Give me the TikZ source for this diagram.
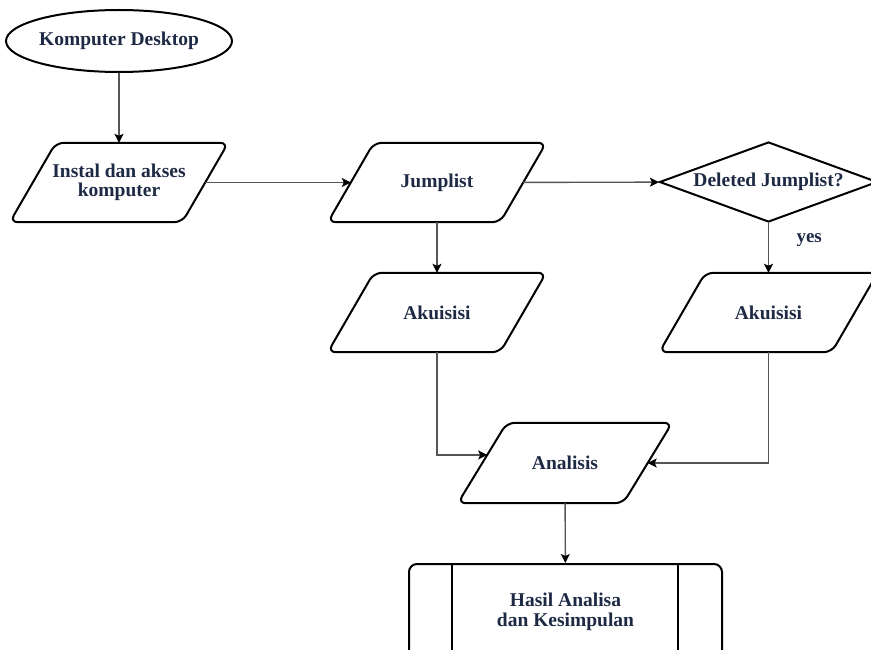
\documentclass[tikz,border=0pt]{standalone}
\usepackage{fontspec}
\setmainfont{Liberation Serif}
\usetikzlibrary{shapes.geometric,arrows.meta,calc}
\definecolor{txt}{RGB}{30,42,68}
\definecolor{conn}{RGB}{85,85,85}
\newcommand\drawpara[2][23]{%
  \draw[shp, rounded corners=8pt]
    ($(#2.north west)+(#1,0)$) -- ($(#2.north east)+(#1,0)$) --
    ($(#2.south east)+(-#1,0)$) -- ($(#2.south west)+(-#1,0)$) -- cycle;}
\begin{document}
\begin{tikzpicture}[x=1pt,y=-1pt,
  every node/.style={font=\fontsize{19.5}{19.5}\selectfont\bfseries, text=txt},
  shp/.style={draw=black, line width=2pt},
  para/.style={rectangle, minimum height=79pt, minimum width=172pt, align=center, inner sep=0pt},
  term/.style={shp, ellipse, minimum width=222pt, minimum height=62pt, inner sep=0pt},
  decision/.style={shp, diamond, aspect=2.725, minimum width=218pt, minimum height=80pt, inner sep=0pt},
  proc/.style={shp, rectangle, rounded corners=8pt, minimum width=313pt, minimum height=96pt, align=center},
  conn/.style={draw=conn, line width=1.4pt, -{Stealth[length=9pt,width=9pt,inset=2pt,color=black]}},
  lbl/.style={font=\fontsize{19}{19}\selectfont\bfseries}
]
\clip (0,0) rectangle (871,650);
\node[term] (kd) at (119,41) {Komputer Desktop};
\node[para] (inst) at (119,182.5) {Instal dan akses\\komputer};
\node[para] (jump) at (437,182.5) {Jumplist};
\node[decision] (dj) at (768.5,182) {Deleted Jumplist?};
\node[para] (akL) at (437,312.5) {Akuisisi};
\node[para] (akR) at (768.5,312.5) {Akuisisi};
\node[para, minimum width=165pt, minimum height=80pt] (ana) at (565,463) {Analisis};
\node[proc] (hasil) at (565.5,612) {Hasil Analisa\\ dan Kesimpulan};
\drawpara{inst}
\drawpara{jump}
\drawpara{akL}
\drawpara{akR}
\drawpara[24.5]{ana}
\draw[shp] ($(hasil.north west)+(44,0)$) -- ($(hasil.south west)+(44,0)$);
\draw[shp] ($(hasil.north east)+(-45,0)$) -- ($(hasil.south east)+(-45,0)$);

\draw[conn] (kd.south) -- (kd.south |- inst.north);
\draw[conn] (inst) -- (jump);
\draw[conn] (jump) -- (dj);
\draw[conn] (jump) -- (akL);
\draw[conn] (dj) -- node[lbl, right=24pt, pos=0.35] (yes) {yes} (akR);
\coordinate (anaL) at ($($(ana.north west)+(24.5,0)$)!0.4!($(ana.south west)+(-24.5,0)$)$);
\draw[conn] (akL.south) |- (anaL);
\draw[conn] (akR.south) |- (ana.east);
\draw[conn] (ana) -- (hasil);
\end{tikzpicture}
\end{document}
